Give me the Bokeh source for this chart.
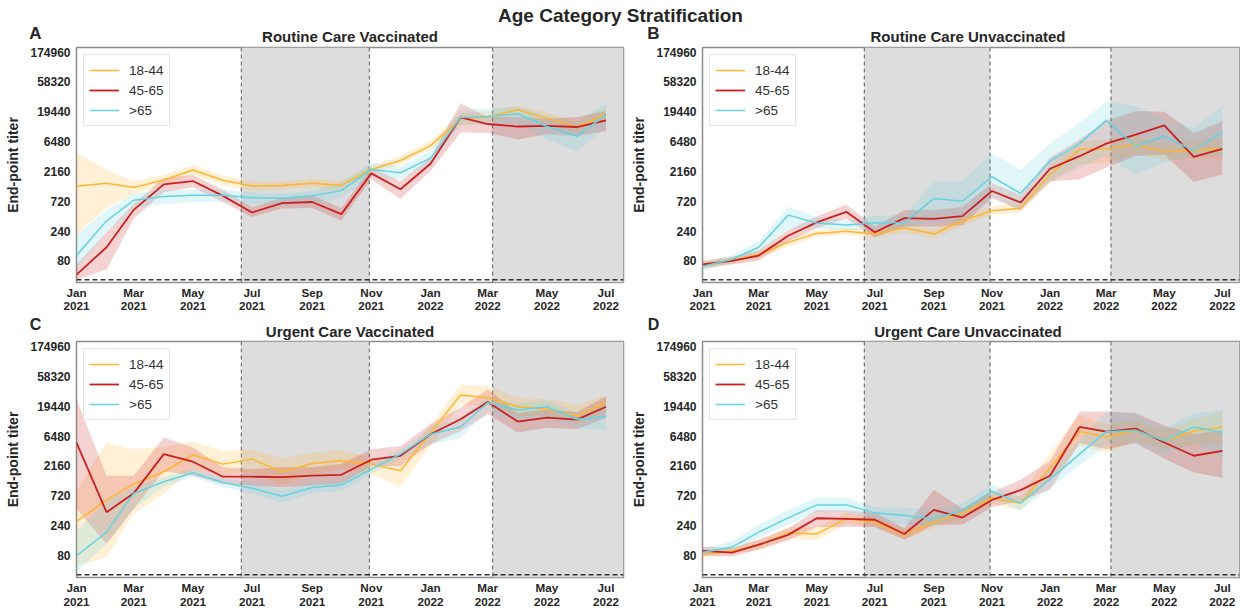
import pandas as pd
from bokeh.plotting import figure
from bokeh.models import (Range1d, FixedTicker, NumeralTickFormatter, DatetimeTickFormatter,
                          BoxAnnotation, Span)
from bokeh.layouts import column, row
from bokeh.embed import file_html
from bokeh.resources import INLINE
from bokeh.core.properties import value

# ---------------- data ----------------
months = pd.date_range("2021-01-01", periods=19, freq="MS")
tick_dates = pd.date_range("2021-01-01", periods=10, freq="2MS")
y_ticks = [80, 240, 720, 2160, 6480, 19440, 58320, 174960]
groups = ["18-44", "45-65", ">65"]
colors = ["#ffb531", "#cc2020", "#66d2e0"]
delta_start = "2021-06-20"
omicron_start = "2021-10-30"
ba2_start = "2022-03-06"
x_end_date = "2022-07-19"
limit_of_detection = 40
suptitle = "Age Category Stratification"
panel_letters = ["A", "B", "C", "D"]
panel_titles = ["Routine Care Vaccinated", "Routine Care Unvaccinated",
                "Urgent Care Vaccinated", "Urgent Care Unvaccinated"]

# A: Routine Care Vaccinated
A_1844_mid = [1250, 1400, 1190, 1570, 2270, 1560, 1260, 1290, 1400, 1290, 2320, 3230, 5600, 15000, 16000, 20900, 15400, 11100, 18100]
A_1844_lo = [215, 560, 950, 1300, 1900, 1300, 1050, 1100, 1200, 1050, 2000, 2800, 4800, 12000, 13000, 17000, 12000, 9000, 14000]
A_1844_hi = [4300, 2300, 1500, 1900, 2700, 1850, 1500, 1500, 1650, 1550, 2700, 3800, 6600, 18500, 20000, 24000, 19000, 14000, 23000]
A_4565_mid = [48, 132, 524, 1340, 1516, 877, 475, 669, 700, 447, 2008, 1117, 2860, 15800, 12400, 11300, 11600, 11100, 14200]
A_4565_lo = [40, 58, 380, 1000, 1200, 700, 400, 550, 560, 350, 1600, 790, 2200, 9100, 9000, 7000, 8500, 8000, 9500]
A_4565_hi = [70, 230, 650, 1700, 1900, 1100, 580, 820, 900, 560, 2500, 1500, 3600, 26700, 16000, 16000, 15000, 16000, 20000]
A_65_mid = [97, 350, 747, 855, 900, 900, 820, 800, 877, 1064, 2320, 2055, 3520, 15800, 16400, 18100, 11300, 7880, 17500]
A_65_lo = [60, 230, 560, 650, 700, 700, 650, 640, 650, 800, 1800, 1600, 2700, 12000, 12000, 13000, 7000, 4500, 11000]
A_65_hi = [210, 520, 950, 1100, 1100, 1100, 1000, 950, 1050, 1400, 3000, 2600, 4600, 21000, 22000, 23000, 17000, 13000, 28000]

# B: Routine Care Unvaccinated
B_1844_mid = [67, 82, 100, 158, 220, 237, 215, 271, 215, 350, 505, 555, 1935, 4830, 4950, 5800, 4440, 4700, 5000]
B_1844_lo = [58, 72, 88, 135, 195, 210, 185, 230, 180, 290, 430, 470, 1400, 2800, 3000, 4000, 3300, 3400, 3500]
B_1844_hi = [78, 94, 115, 185, 250, 270, 250, 320, 260, 420, 600, 660, 2700, 6500, 7000, 8000, 6000, 6500, 7500]
B_4565_mid = [70, 80, 97, 202, 330, 487, 229, 386, 375, 416, 1050, 686, 2385, 3785, 6025, 8375, 11770, 3700, 4950]
B_4565_lo = [62, 70, 80, 165, 265, 380, 190, 290, 280, 300, 800, 520, 1500, 1600, 2500, 3800, 4000, 1460, 1935]
B_4565_hi = [80, 92, 118, 250, 410, 640, 280, 520, 520, 580, 1400, 900, 3600, 7000, 14000, 20000, 19500, 8900, 13700]
B_65_mid = [65, 85, 132, 431, 322, 300, 322, 330, 794, 720, 1776, 965, 3150, 6025, 14200, 5460, 7880, 4700, 9120]
B_65_lo = [56, 74, 110, 260, 260, 250, 250, 270, 330, 330, 900, 500, 1500, 2500, 3800, 1935, 3000, 3800, 3800]
B_65_hi = [76, 98, 165, 590, 400, 360, 420, 420, 1500, 1500, 4180, 2300, 6000, 13000, 28000, 24000, 15000, 10700, 24200]

# C: Urgent Care Vaccinated
C_1844_mid = [281, 620, 1112, 1746, 3250, 2310, 2775, 1746, 2360, 2613, 2310, 1810, 7270, 29200, 26400, 19000, 17250, 13500, 22000]
C_1844_lo = [55, 76, 372, 775, 1920, 1510, 1700, 1050, 1600, 1920, 1600, 1000, 4500, 20800, 19500, 13500, 13500, 10000, 16300]
C_1844_hi = [872, 5100, 4000, 4400, 5230, 3770, 3950, 2870, 3540, 3900, 2900, 2900, 9500, 43000, 40500, 26400, 25000, 20800, 28000]
C_4565_mid = [5100, 395, 790, 3330, 2520, 1455, 1455, 1430, 1510, 1560, 2715, 3135, 6930, 12000, 22600, 11000, 12700, 11800, 19000]
C_4565_lo = [450, 124, 450, 1800, 1510, 1110, 1050, 985, 1050, 1110, 2160, 2160, 4800, 7800, 14400, 7360, 8800, 8300, 12700]
C_4565_hi = [24900, 1510, 1510, 6140, 4250, 2050, 1920, 2050, 2050, 2315, 4000, 4510, 10000, 18400, 35800, 15100, 17300, 15500, 28000]
C_65_mid = [80, 190, 790, 1212, 1683, 1180, 950, 709, 980, 1070, 1926, 3330, 6930, 9000, 22000, 16800, 19000, 12000, 13100]
C_65_lo = [44, 124, 450, 1000, 1450, 1000, 780, 560, 800, 850, 1600, 2800, 4800, 6000, 16000, 11000, 12500, 8800, 7800]
C_65_hi = [202, 600, 1000, 1450, 1950, 1400, 1150, 900, 1200, 1250, 2400, 4000, 8800, 12700, 27000, 21000, 24000, 15000, 21000]

# D: Urgent Care Unvaccinated
D_1844_mid = [84, 95, 117, 185, 178, 310, 274, 172, 274, 381, 667, 549, 2000, 7650, 6270, 8000, 5440, 7800, 9040]
D_1844_lo = [75, 85, 100, 150, 140, 260, 230, 145, 220, 310, 540, 420, 1300, 4500, 3500, 5500, 4000, 4500, 5000]
D_1844_hi = [95, 110, 140, 230, 230, 380, 330, 210, 340, 470, 830, 700, 3500, 14000, 10000, 11000, 8000, 12000, 16000]
D_4565_mid = [96, 90, 120, 172, 317, 310, 300, 178, 430, 325, 620, 890, 1510, 9040, 7600, 8530, 5100, 3140, 3760]
D_4565_lo = [80, 78, 100, 140, 230, 230, 230, 145, 250, 250, 480, 600, 900, 5000, 4000, 5000, 2800, 1700, 1400]
D_4565_hi = [112, 105, 145, 220, 430, 420, 390, 220, 900, 450, 820, 1300, 2600, 16000, 16000, 15000, 9500, 7000, 8000]
D_65_mid = [90, 110, 190, 321, 517, 517, 386, 350, 310, 420, 850, 549, 1335, 3330, 7600, 8000, 5440, 9040, 7350]
D_65_lo = [80, 95, 150, 250, 400, 400, 300, 250, 240, 330, 650, 420, 950, 2200, 4500, 5000, 3200, 5000, 3000]
D_65_hi = [105, 135, 250, 430, 680, 670, 480, 470, 450, 550, 1100, 700, 1900, 5500, 16000, 15000, 8500, 15000, 17000]

# ---------------- layout / style ----------------
FONT = "Liberation Sans"
TXT = "#262626"
TOTAL_W = 1240
# left panel: border 76, frame 547, right 5 ; right panel: border 68, frame 543, right 1
LEFT_COL = (76, 547, 5)
RIGHT_COL = (68, 543, 1)
ROW1 = dict(top=1, frame=237, bottom=31, standoff=3, lh=1.05)
ROW2 = dict(top=1, frame=236, bottom=35, standoff=3, lh=1.15)
HEAD1_H = 46
HEAD2_H = 25


def ms(d):
    return pd.Timestamp(d).value / 1e6


def make_panel(series, rowcfg, colcfg):
    lb, fw, rb = colcfg
    p = figure(width=lb + fw + rb, height=rowcfg["top"] + rowcfg["frame"] + rowcfg["bottom"],
               x_axis_type="datetime", y_axis_type="log",
               x_range=Range1d(ms("2021-01-01"), ms(x_end_date)),
               y_range=Range1d(36, 208000),
               toolbar_location=None, output_backend="svg",
               min_border_left=lb, min_border_right=rb,
               min_border_top=rowcfg["top"], min_border_bottom=rowcfg["bottom"])
    p.grid.visible = False
    p.outline_line_color = "#8c8c8c"
    p.outline_line_width = 1.5
    p.background_fill_color = "white"
    p.border_fill_color = "white"

    p.add_layout(BoxAnnotation(left=ms(delta_start), right=ms(omicron_start),
                               fill_color="#dddddd", fill_alpha=1.0, line_color=None,
                               level="underlay"))
    p.add_layout(BoxAnnotation(left=ms(ba2_start), fill_color="#dddddd", fill_alpha=1.0,
                               line_color=None, level="underlay"))
    for d in (delta_start, omicron_start, ba2_start):
        p.add_layout(Span(location=ms(d), dimension="height", line_color="#7a7a7a",
                          line_width=1.3, line_dash="4 3", level="underlay"))

    for (g, c, (mid, lo, hi)) in zip(groups, colors, series):
        p.varea(x=months, y1=lo, y2=hi, fill_color=c, fill_alpha=0.2)
    for (g, c, (mid, lo, hi)) in zip(groups, colors, series):
        p.line(x=months, y=mid, line_color=c, line_width=1.8 if g == "45-65" else 1.5,
               legend_label=g)

    p.add_layout(Span(location=limit_of_detection, dimension="width", line_color="#333333",
                      line_width=1.5, line_dash="5 3"))

    p.yaxis.ticker = FixedTicker(ticks=y_ticks, minor_ticks=[])
    p.yaxis.formatter = NumeralTickFormatter(format="0")
    p.xaxis.ticker = FixedTicker(ticks=[ms(d) for d in tick_dates], minor_ticks=[])
    fmt = "%b\n%Y"
    p.xaxis.formatter = DatetimeTickFormatter(
        microseconds=fmt, milliseconds=fmt, seconds=fmt, minsec=fmt, minutes=fmt,
        hourmin=fmt, hours=fmt, days=fmt, months=fmt, years=fmt)
    for ax in (p.xaxis[0], p.yaxis[0]):
        ax.axis_line_color = None
        ax.major_tick_line_color = None
        ax.minor_tick_line_color = None
        ax.major_tick_out = 0
        ax.major_tick_in = 0
        ax.major_label_text_font = FONT
        ax.major_label_text_font_style = "bold"
        ax.major_label_text_color = TXT
    p.xaxis.major_label_text_font_size = "11.7px"
    p.xaxis.major_label_text_line_height = rowcfg["lh"]
    p.xaxis.major_label_standoff = rowcfg["standoff"]
    p.yaxis.major_label_text_font_size = "12px"
    p.yaxis.major_label_standoff = 6
    p.yaxis.axis_label = "End-point titer"
    p.yaxis.axis_label_text_font = FONT
    p.yaxis.axis_label_text_font_style = "bold"
    p.yaxis.axis_label_text_font_size = "14px"
    p.yaxis.axis_label_text_color = TXT
    p.yaxis.axis_label_standoff = 6

    lg = p.legend[0]
    lg.location = "top_left"
    lg.margin = 7
    lg.padding = 5
    lg.spacing = 0
    lg.glyph_width = 30
    lg.glyph_height = 20
    lg.label_height = 20
    lg.label_standoff = 10
    lg.label_text_font = FONT
    lg.label_text_font_size = "13.5px"
    lg.label_text_color = "#333333"
    lg.border_line_color = "#cccccc"
    lg.border_line_width = 1
    lg.background_fill_alpha = 0.85
    return p


def header(h, items):
    f = figure(width=TOTAL_W, height=h, x_range=Range1d(0, TOTAL_W), y_range=Range1d(h, 0),
               toolbar_location=None, output_backend="svg", min_border=0,
               x_axis_location=None, y_axis_location=None)
    f.grid.visible = False
    f.outline_line_color = None
    f.background_fill_color = "white"
    f.border_fill_color = "white"
    for (x, y, txt, size) in items:
        f.text(x=[x], y=[y], text=[txt], text_align="center", text_baseline="middle",
               text_font=value(FONT), text_font_style="bold", text_font_size=size,
               text_color=TXT)
    return f


# pixel centres of each panel frame (for titles) and letter positions
a_center = LEFT_COL[0] + LEFT_COL[1] / 2
b_left = sum(LEFT_COL) + RIGHT_COL[0]
b_center = b_left + RIGHT_COL[1] / 2
letter_a_x = 35
letter_b_x = sum(LEFT_COL) + 25

pA = make_panel([(A_1844_mid, A_1844_lo, A_1844_hi), (A_4565_mid, A_4565_lo, A_4565_hi),
                 (A_65_mid, A_65_lo, A_65_hi)], ROW1, LEFT_COL)
pB = make_panel([(B_1844_mid, B_1844_lo, B_1844_hi), (B_4565_mid, B_4565_lo, B_4565_hi),
                 (B_65_mid, B_65_lo, B_65_hi)], ROW1, RIGHT_COL)
pC = make_panel([(C_1844_mid, C_1844_lo, C_1844_hi), (C_4565_mid, C_4565_lo, C_4565_hi),
                 (C_65_mid, C_65_lo, C_65_hi)], ROW2, LEFT_COL)
pD = make_panel([(D_1844_mid, D_1844_lo, D_1844_hi), (D_4565_mid, D_4565_lo, D_4565_hi),
                 (D_65_mid, D_65_lo, D_65_hi)], ROW2, RIGHT_COL)

head1 = header(HEAD1_H, [
    (620, 15, suptitle, "19px"),
    (letter_a_x, 33, panel_letters[0], "17px"),
    (letter_b_x, 33, panel_letters[1], "17px"),
    (a_center, 36, panel_titles[0], "15px"),
    (b_center, 36, panel_titles[1], "15px"),
])
head2 = header(HEAD2_H, [
    (letter_a_x, 9, panel_letters[2], "16px"),
    (letter_b_x, 9, panel_letters[3], "16px"),
    (a_center, 16, panel_titles[2], "15px"),
    (b_center, 16, panel_titles[3], "15px"),
])

layout = column(head1, row(pA, pB, spacing=0), head2, row(pC, pD, spacing=0), spacing=0)
open("out.html", "w").write(file_html(layout, INLINE))
